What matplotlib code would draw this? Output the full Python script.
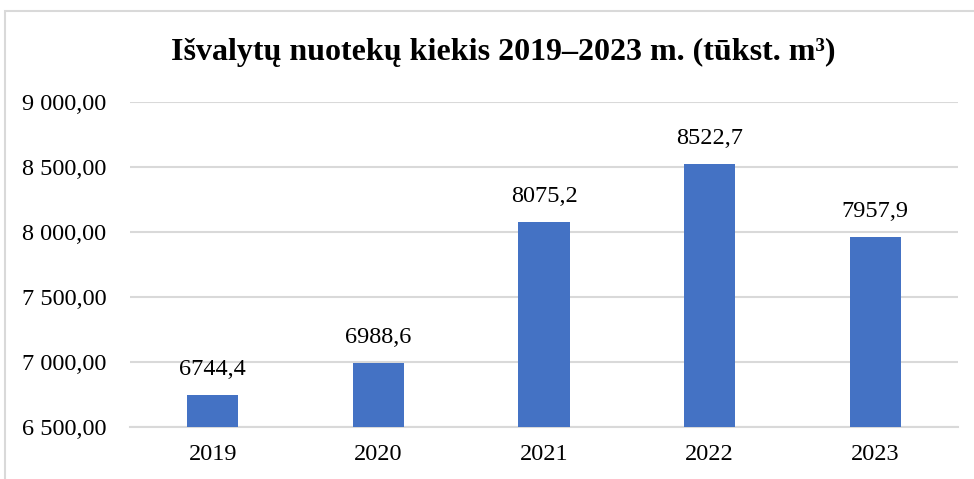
import matplotlib
matplotlib.use("Agg")
import matplotlib.pyplot as plt
from matplotlib.patches import Rectangle
from matplotlib.ticker import FuncFormatter

years  = ["2019", "2020", "2021", "2022", "2023"]
values = [6744.4, 6988.6, 8075.2, 8522.7, 7957.9]
y_ticks = [6500, 7000, 7500, 8000, 8500, 9000]

plt.rcParams["font.family"] = ["Liberation Serif", "DejaVu Serif"]

BAR_COLOR  = "#4472C4"
GRID_COLOR = "#D9D9D9"


def fmt_lt(v, _pos=None):
    # Lithuanian style: space thousands separator, comma decimal
    s = f"{v:,.2f}"
    return s.replace(",", " ").replace(".", ",")


fig = plt.figure(figsize=(9.74, 4.79), dpi=100)

# outer chart frame (runs off right/bottom edge as in the original crop)
fig.patches.append(Rectangle((5 / 974, -0.05), 1.0, 1 - 11 / 479 + 0.05,
                             transform=fig.transFigure, fill=False,
                             edgecolor=GRID_COLOR, linewidth=1.5))

ax = fig.add_axes([130 / 974, 1 - 427 / 479, 828 / 974, 325 / 479])
x = range(len(years))
bars = ax.bar(x, values, width=0.31, color=BAR_COLOR, zorder=3)

ax.set_ylim(6500, 9000)
ax.set_xlim(-0.5, len(years) - 0.5)
ax.set_yticks(y_ticks)
ax.yaxis.set_major_formatter(FuncFormatter(fmt_lt))
ax.set_xticks(list(x))
ax.set_xticklabels(years)
ax.tick_params(axis="both", length=0, labelsize=17.5, colors="black")
ax.tick_params(axis="y", pad=17)
ax.tick_params(axis="x", pad=12)
ax.grid(axis="y", color=GRID_COLOR, linewidth=1.5, zorder=0)
for side in ["top", "right", "left"]:
    ax.spines[side].set_visible(False)
ax.spines["bottom"].set_color(GRID_COLOR)
ax.spines["bottom"].set_linewidth(1.5)

for b, v in zip(bars, values):
    ax.annotate(f"{v:.1f}".replace(".", ","),
                (b.get_x() + b.get_width() / 2, v),
                xytext=(0, 11), textcoords="offset points",
                ha="center", va="bottom", fontsize=17.5)

fig.text(0.517, 1 - 52 / 479, "Išvalytų nuotekų kiekis 2019–2023 m. (tūkst. m³)",
         ha="center", va="center", fontsize=23, fontweight="bold")

fig.savefig("out.png", dpi=100)
